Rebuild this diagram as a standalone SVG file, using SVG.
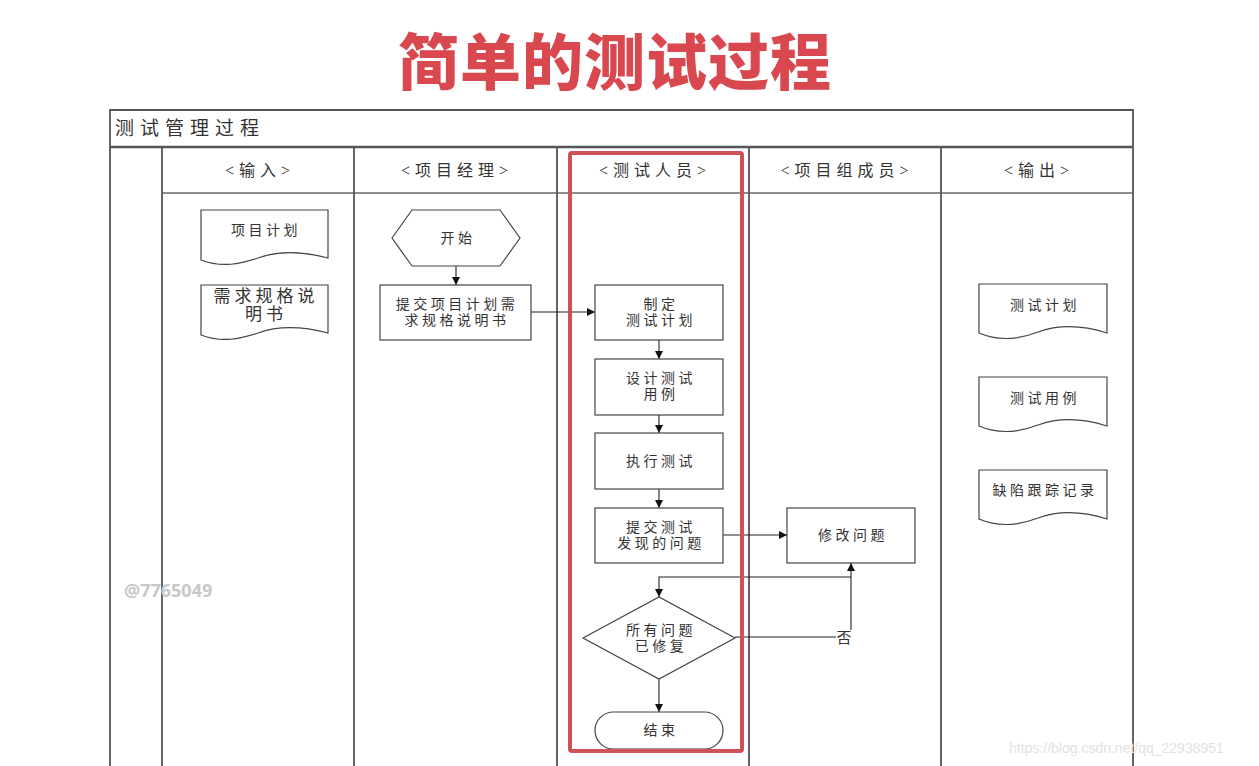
<svg xmlns="http://www.w3.org/2000/svg" width="1259" height="766" viewBox="0 0 1259 766">
<defs>
<marker id="arr" viewBox="0 0 10 10" refX="10" refY="5" markerWidth="8" markerHeight="8" markerUnits="userSpaceOnUse" orient="auto">
<path d="M0,0 L10,5 L0,10 z" fill="#111"/>
</marker>
<style>
.t{font-family:"Liberation Serif","Noto Sans CJK SC",serif;fill:#333;text-anchor:middle;dominant-baseline:central}
.hd{font-size:16px;letter-spacing:5px}
.lbl{font-size:14px;letter-spacing:3.5px}
.sh{fill:#fff;stroke:#444;stroke-width:1.2}
.ln{stroke:#555;stroke-width:1.8;fill:none}
.cn{stroke:#222;stroke-width:1.1;fill:none;marker-end:url(#arr)}
</style>
</defs>
<rect width="1259" height="766" fill="#fff"/>
<text x="615" y="58" font-family="'Noto Sans CJK SC',sans-serif" font-weight="900" font-size="61" letter-spacing="1" fill="#d9474f" text-anchor="middle" dominant-baseline="central">简单的测试过程</text>

<g id="frame">
<path class="ln" d="M110,766 V110 H1133 V766" stroke-width="1.5"/>
<line x1="110" y1="147" x2="1133" y2="147" stroke="#555" stroke-width="2.5"/>
<line x1="162" y1="193" x2="1133" y2="193" stroke="#666" stroke-width="1.5"/>
<line class="ln" x1="162" y1="147" x2="162" y2="766"/>
<line class="ln" x1="354" y1="147" x2="354" y2="766"/>
<line class="ln" x1="557" y1="147" x2="557" y2="766"/>
<line class="ln" x1="749" y1="147" x2="749" y2="766"/>
<line class="ln" x1="941" y1="147" x2="941" y2="766"/>
<text class="t" x="115" y="128" font-size="19" style="text-anchor:start;letter-spacing:6px">测试管理过程</text>
<text class="t hd" x="260" y="170">&lt;输入&gt;</text>
<text class="t hd" x="457" y="170">&lt;项目经理&gt;</text>
<text class="t hd" x="655" y="170">&lt;测试人员&gt;</text>
<text class="t hd" x="847" y="170">&lt;项目组成员&gt;</text>
<text class="t hd" x="1039" y="170">&lt;输出&gt;</text>
</g>

<g id="connectors">
<line class="cn" x1="456" y1="266" x2="456" y2="285"/>
<line class="cn" x1="531" y1="312" x2="595" y2="312"/>
<line class="cn" x1="659" y1="340" x2="659" y2="359"/>
<line class="cn" x1="659" y1="415" x2="659" y2="433"/>
<line class="cn" x1="659" y1="489" x2="659" y2="508"/>
<line class="cn" x1="723" y1="535" x2="787" y2="535"/>
<path class="cn" d="M735,637 H851 V563"/>
<path class="cn" d="M851,577 H659 V597"/>
<line class="cn" x1="659" y1="679" x2="659" y2="712"/>
<rect x="836" y="630" width="16" height="15" fill="#fff"/>
<text class="t" font-size="15" x="844" y="638">否</text>
</g>

<g id="in-plan">
<path class="sh" d="M201,210 H328 V258 C305,252 280,250 258,258 C240,264 222,268 201,260 Z"/>
<text class="t lbl" x="266" y="230">项目计划</text>
</g>
<g id="in-req">
<path class="sh" d="M201,285 H328 V333 C305,327 280,325 258,333 C240,339 222,343 201,335 Z"/>
<text class="t" font-size="17" letter-spacing="4" x="266" y="296">需求规格说</text>
<text class="t" font-size="17" letter-spacing="4" x="266" y="314">明书</text>
</g>

<g id="start">
<polygon class="sh" points="392,238 412,210 500,210 520,238 500,266 412,266"/>
<text class="t lbl" x="458" y="238">开始</text>
</g>
<g id="submit-plan">
<rect class="sh" x="380" y="285" width="151" height="55"/>
<text class="t lbl" x="457" y="304">提交项目计划需</text>
<text class="t lbl" x="457" y="320">求规格说明书</text>
</g>

<g id="make-plan">
<rect class="sh" x="595" y="285" width="128" height="55"/>
<text class="t lbl" x="661" y="304">制定</text>
<text class="t lbl" x="661" y="320">测试计划</text>
</g>
<g id="design-case">
<rect class="sh" x="595" y="359" width="128" height="56"/>
<text class="t lbl" x="661" y="378">设计测试</text>
<text class="t lbl" x="661" y="394">用例</text>
</g>
<g id="exec">
<rect class="sh" x="595" y="433" width="128" height="56"/>
<text class="t lbl" x="661" y="461">执行测试</text>
</g>
<g id="submit-bug">
<rect class="sh" x="595" y="508" width="128" height="55"/>
<text class="t lbl" x="661" y="527">提交测试</text>
<text class="t lbl" x="661" y="543">发现的问题</text>
</g>
<g id="fix">
<rect class="sh" x="787" y="508" width="128" height="55"/>
<text class="t lbl" x="853" y="535">修改问题</text>
</g>
<g id="decision">
<polygon class="sh" points="583,638 659,597 735,638 659,679"/>
<text class="t lbl" x="661" y="630">所有问题</text>
<text class="t lbl" x="661" y="646">已修复</text>
</g>
<g id="end">
<rect class="sh" x="595" y="712" width="128" height="37" rx="18.5"/>
<text class="t lbl" x="661" y="730">结束</text>
</g>

<g id="out-plan">
<path class="sh" d="M979,284 H1107 V333 C1085,326 1060,324 1038,332 C1020,339 1000,342 979,333 Z"/>
<text class="t lbl" x="1045" y="305">测试计划</text>
</g>
<g id="out-case">
<path class="sh" d="M979,377 H1107 V426 C1085,419 1060,417 1038,425 C1020,432 1000,435 979,426 Z"/>
<text class="t lbl" x="1045" y="398">测试用例</text>
</g>
<g id="out-bug">
<path class="sh" d="M979,470 H1107 V519 C1085,512 1060,510 1038,518 C1020,525 1000,528 979,519 Z"/>
<text class="t lbl" x="1045" y="490">缺陷跟踪记录</text>
</g>

<rect id="highlight" x="570" y="153" width="172" height="598" rx="2" fill="none" stroke="#cf515a" stroke-width="4"/>

<text x="124" y="590" font-family="'Noto Sans','Liberation Sans',sans-serif" font-weight="bold" font-size="18" fill="#c8c8c8" dominant-baseline="central">@7765049</text>
<text x="1009" y="748" font-family="'Liberation Sans',sans-serif" font-size="14" fill="#e2e2e2" dominant-baseline="central">https://blog.csdn.net/qq_22938951</text>
</svg>
